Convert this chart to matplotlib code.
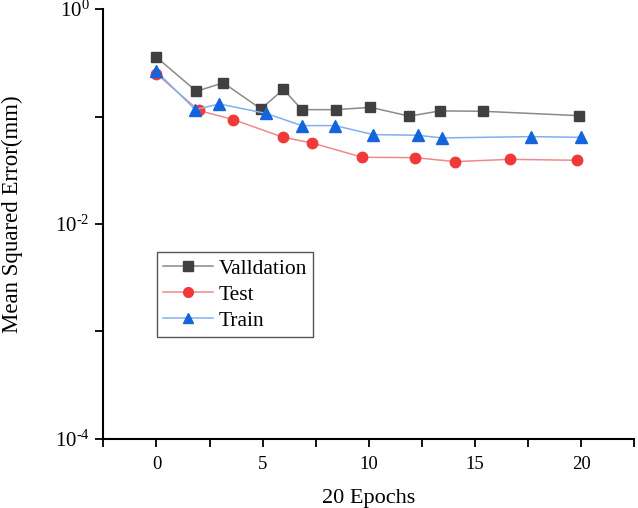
import numpy as np
import matplotlib
matplotlib.use('Agg')
import matplotlib.pyplot as plt
from matplotlib.ticker import FixedLocator, NullFormatter, FuncFormatter

plt.rcParams['font.family'] = ['Liberation Serif', 'DejaVu Serif']
plt.rcParams['mathtext.fontset'] = 'custom'
plt.rcParams['mathtext.rm'] = 'Liberation Serif'
plt.rcParams['mathtext.it'] = 'Liberation Serif'

# valores
val_x = [0, 1.88, 3.15, 4.92, 5.98, 6.85, 8.46, 10.08, 11.9, 13.37, 15.4, 19.9]
val_y = [0.357, 0.172, 0.206, 0.118, 0.179, 0.116, 0.116, 0.122, 0.101, 0.113, 0.112, 0.102]

test_x = [0, 1.99, 3.62, 5.98, 7.32, 9.7, 12.18, 14.06, 16.66, 19.82]
test_y = [0.25, 0.114, 0.0938, 0.0641, 0.0569, 0.0418, 0.0415, 0.0381, 0.040, 0.0392]

train_x = [0, 1.83, 2.96, 5.17, 6.85, 8.42, 10.2, 12.3, 13.45, 17.66, 19.98]
train_y = [0.264, 0.116, 0.131, 0.107, 0.0824, 0.0824, 0.068, 0.067, 0.0633, 0.0651, 0.0641]

x_ticks = [0, 5, 10, 15, 20]

fig = plt.figure(figsize=(6.38, 5.08), dpi=100)
ax = fig.add_axes([0.162, 0.136, 0.832, 0.846])

ax.plot(val_x, val_y, color='#8a8a8a', lw=1.1, marker='s', ms=7,
        mfc='#404040', mec='#404040', label='Valldation')
ax.plot(test_x, test_y, color='#f08a8a', lw=1.1, marker='o', ms=7.5,
        mfc='#f03a3a', mec='#f03a3a', label='Test')
ax.plot(train_x, train_y, color='#80b0f0', lw=1.1, marker='^', ms=8.5,
        mfc='#1464dc', mec='#1464dc', label='Train')

ax.set_yscale('log')
ax.set_ylim(1e-4, 1)
ax.set_xlim(-2.5, 22.5)
ax.yaxis.set_major_locator(FixedLocator([1e-4, 1e-2, 1]))
ax.yaxis.set_minor_locator(FixedLocator([1e-3, 1e-1]))
ax.yaxis.set_minor_formatter(NullFormatter())
ax.yaxis.set_major_formatter(FuncFormatter(lambda v, p: r'$10^{\text{%d}}$' % round(np.log10(v))))
ax.set_xticks(x_ticks)
ax.xaxis.set_minor_locator(FixedLocator([-2.5, 2.5, 7.5, 12.5, 17.5, 22.5]))

for s in ['top', 'right']:
    ax.spines[s].set_visible(False)
for s in ['left', 'bottom']:
    ax.spines[s].set_linewidth(1.5)
ax.tick_params(which='both', direction='out', width=1.3)
ax.tick_params(which='major', length=6, pad=6)
ax.tick_params(which='minor', length=6)
ax.tick_params(axis='x', labelsize=13.5)
ax.tick_params(axis='y', labelsize=15, pad=4)

ax.set_xlabel('20 Epochs', fontsize=16, labelpad=12)
ax.set_ylabel('Mean Squared Error(mm)', fontsize=16.5)
ax.yaxis.set_label_coords(-0.152, 0.524)

leg = ax.legend(loc='lower left', bbox_to_anchor=(0.101, 0.236), fontsize=15.5,
                handlelength=2.3, labelspacing=0.28, borderpad=0.3,
                handletextpad=0.25, fancybox=False, framealpha=1,
                edgecolor='#555555', borderaxespad=0)
leg.get_frame().set_linewidth(1.0)
for h in leg.legend_handles:
    h.set_markersize(7)

fig.savefig('out.png', dpi=100)
